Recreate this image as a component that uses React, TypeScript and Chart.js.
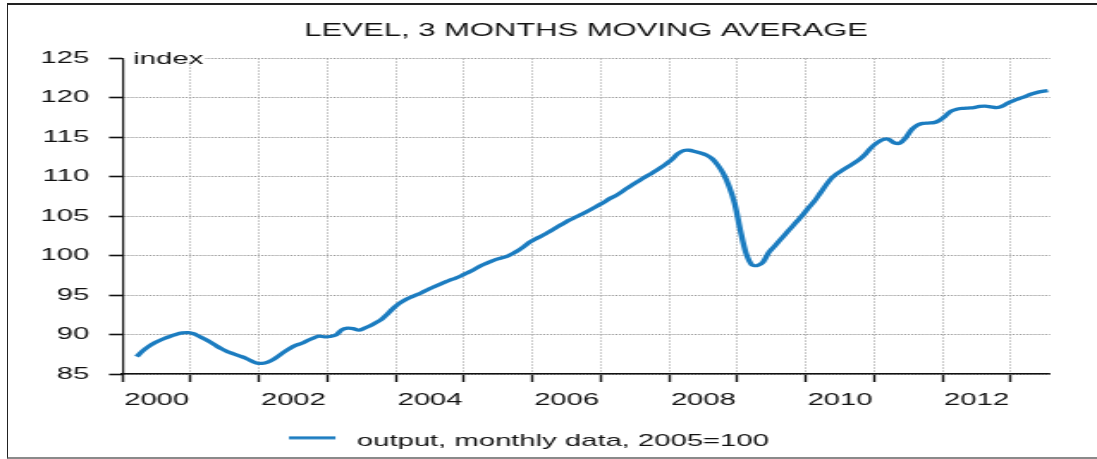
import React, { useEffect, useRef } from 'react';
import { Chart, registerables } from 'chart.js';

Chart.register(...registerables);

// ---- text ----
const TITLE = 'LEVEL, 3 MONTHS MOVING AVERAGE';
const SERIES_LABEL = 'output, monthly data, 2005=100';
const Y_UNIT = 'index';

// ---- data: 3-month moving average, monthly, starting March 2000 ----
const START_YEAR = 2000;
const START_MONTH = 3;
const v2000 = [87.2, 87.9, 88.45, 88.9, 89.25, 89.55, 89.8, 90.05, 90.2, 90.25];
const v2001 = [90.1, 89.75, 89.4, 89.0, 88.55, 88.15, 87.8, 87.55, 87.3, 87.05, 86.7, 86.4];
const v2002 = [86.35, 86.5, 86.85, 87.35, 87.85, 88.3, 88.65, 88.9, 89.25, 89.55, 89.8, 89.7];
const v2003 = [89.75, 89.95, 90.6, 90.8, 90.75, 90.55, 90.8, 91.1, 91.5, 91.95, 92.6, 93.3];
const v2004 = [93.9, 94.35, 94.7, 95.0, 95.3, 95.65, 96.0, 96.3, 96.6, 96.9, 97.15, 97.45];
const v2005 = [97.8, 98.15, 98.55, 98.9, 99.2, 99.5, 99.7, 99.9, 100.25, 100.65, 101.15, 101.7];
const v2006 = [102.1, 102.45, 102.85, 103.25, 103.7, 104.1, 104.5, 104.85, 105.2, 105.55, 105.95, 106.35];
const v2007 = [106.75, 107.2, 107.55, 108.0, 108.5, 108.95, 109.4, 109.85, 110.25, 110.7, 111.15, 111.65];
const v2008 = [112.2, 112.9, 113.3, 113.35, 113.2, 113.0, 112.75, 112.3, 111.5, 110.4, 108.8, 106.6];
const v2009 = [103.2, 100.3, 98.85, 98.75, 99.2, 100.4, 101.2, 102.0, 102.8, 103.6, 104.4, 105.2];
const v2010 = [106.1, 106.9, 107.9, 108.9, 109.8, 110.4, 110.85, 111.3, 111.75, 112.25, 112.9, 113.7];
const v2011 = [114.3, 114.7, 114.75, 114.3, 114.25, 114.9, 115.9, 116.5, 116.75, 116.8, 116.85, 117.15];
const v2012 = [117.7, 118.3, 118.55, 118.65, 118.7, 118.75, 118.9, 118.95, 118.85, 118.75, 118.95, 119.35];
const v2013 = [119.65, 119.9, 120.15, 120.45, 120.65, 120.8, 120.9];

const output = [
  ...v2000, ...v2001, ...v2002, ...v2003, ...v2004, ...v2005, ...v2006,
  ...v2007, ...v2008, ...v2009, ...v2010, ...v2011, ...v2012, ...v2013,
];

// ---- axes ----
const yearLabels = [2000, 2002, 2004, 2006, 2008, 2010, 2012];
const X_MIN = 2000;
const X_MAX = 2013.574;
const Y_MIN = 85;
const Y_MAX = 125;
const Y_STEP = 5;

// ---- layout (canvas units; the canvas is stretched horizontally) ----
const W = 638;
const H = 459;
const STRETCH = 1097 / W;
const FONT = "'Liberation Sans', Arial, Helvetica, sans-serif";
const PAD_LEFT = 4.5;
const PAD_RIGHT = 27.3;
const Y_AXIS_WIDTH = 66.75;
const X_AXIS_HEIGHT = 49;
const PLOT_W = W - PAD_LEFT - PAD_RIGHT - Y_AXIS_WIDTH;
const HALF_YEAR_PX = PLOT_W / (X_MAX - X_MIN) / 2;

const LINE_COLOR = '#1b7cc0';
const GRID_COLOR = '#9c9c9c';
const TEXT_COLOR = '#111111';

const unitLabelPlugin = {
  id: 'unitLabel',
  afterDraw(chart: any) {
    const { ctx, chartArea } = chart;
    const y = chart.scales.y.getPixelForValue(Y_MAX);
    ctx.save();
    ctx.font = `17px ${FONT}`;
    const x = chartArea.left + 6.3;
    const w = ctx.measureText(Y_UNIT).width;
    ctx.fillStyle = '#ffffff';
    ctx.fillRect(chartArea.left + 1, y - 1.5, x + w + 1 - (chartArea.left + 1), 3);
    ctx.fillStyle = TEXT_COLOR;
    ctx.textBaseline = 'middle';
    ctx.textAlign = 'left';
    ctx.fillText(Y_UNIT, x, y + 0.8);
    ctx.restore();
  },
};

export default function App() {
  const canvasRef = useRef<HTMLCanvasElement | null>(null);

  useEffect(() => {
    const canvas = canvasRef.current;
    if (!canvas) return;

    const legendLine = document.createElement('canvas');
    legendLine.width = 31;
    legendLine.height = 12;
    const lctx = legendLine.getContext('2d');
    if (lctx) {
      lctx.fillStyle = LINE_COLOR;
      lctx.fillRect(0, 0.8, 27, 3);
    }

    const points = output.map((v, i) => ({
      x: START_YEAR + (START_MONTH - 1 + i + 0.5) / 12,
      y: v,
    }));

    const chart = new Chart(canvas, {
      type: 'line',
      data: {
        datasets: [
          {
            label: SERIES_LABEL,
            data: points,
            borderColor: LINE_COLOR,
            backgroundColor: LINE_COLOR,
            borderWidth: 3.3,
            pointRadius: 0,
            tension: 0.3,
            fill: false,
          },
        ],
      },
      options: {
        animation: false,
        responsive: false,
        devicePixelRatio: 1,
        layout: { padding: { left: PAD_LEFT, right: PAD_RIGHT, top: 0, bottom: -1 } },
        plugins: {
          title: {
            display: true,
            text: TITLE,
            fullSize: false,
            color: TEXT_COLOR,
            font: { family: FONT, size: 18, weight: 'normal' },
            padding: { top: 20.5, bottom: 16.2 },
          },
          legend: {
            display: true,
            position: 'bottom',
            align: 'center',
            labels: {
              usePointStyle: true,
              pointStyle: legendLine,
              pointStyleWidth: 31,
              padding: 10,
              color: TEXT_COLOR,
              font: { family: FONT, size: 17 },
            },
          },
          tooltip: { enabled: false },
        },
        scales: {
          x: {
            type: 'linear',
            min: X_MIN,
            max: X_MAX,
            afterFit: (s: any) => {
              s.height = X_AXIS_HEIGHT;
            },
            grid: {
              color: GRID_COLOR,
              lineWidth: 0.7,
              drawTicks: true,
              tickLength: 8,
              tickWidth: 1.4,
              tickColor: '#111',
            },
            border: { display: true, color: '#111', width: 1.6, dash: [1.5, 1.5] },
            ticks: {
              stepSize: 1,
              autoSkip: false,
              includeBounds: false,
              maxRotation: 0,
              minRotation: 0,
              labelOffset: HALF_YEAR_PX,
              padding: 8.3,
              color: TEXT_COLOR,
              font: { family: FONT, size: 17 },
              callback: (value: any) => (yearLabels.includes(Number(value)) ? String(value) : ''),
            },
          },
          y: {
            type: 'linear',
            min: Y_MIN,
            max: Y_MAX,
            afterFit: (s: any) => {
              s.width = Y_AXIS_WIDTH;
            },
            grid: {
              color: GRID_COLOR,
              lineWidth: 1,
              drawTicks: true,
              tickLength: 7.85,
              tickWidth: 1.6,
              tickColor: '#111',
            },
            border: { display: true, color: '#111', width: 1.2, dash: [1.2, 0.9] },
            ticks: {
              stepSize: Y_STEP,
              padding: 11.5,
              color: TEXT_COLOR,
              font: { family: FONT, size: 17 },
            },
          },
        },
      },
      plugins: [unitLabelPlugin],
    } as any);

    return () => {
      chart.destroy();
    };
  }, []);

  return (
    <div
      style={{
        position: 'fixed',
        left: 0,
        top: 0,
        width: 1097,
        height: 459,
        overflow: 'hidden',
        background: '#ffffff',
      }}
    >
      <div
        style={{
          position: 'absolute',
          left: 6.5,
          top: 2.5,
          width: 1200,
          height: 456,
          boxSizing: 'border-box',
          borderTop: '2px solid #222',
          borderLeft: '1.8px solid #222',
          borderBottom: '2px solid #8a8a8a',
        }}
      />
      <div
        style={{
          position: 'absolute',
          left: 0,
          top: 0,
          width: W,
          height: H,
          transform: `scaleX(${STRETCH})`,
          transformOrigin: '0 0',
        }}
      >
        <canvas ref={canvasRef} width={W} height={H} style={{ display: 'block' }} />
      </div>
    </div>
  );
}
